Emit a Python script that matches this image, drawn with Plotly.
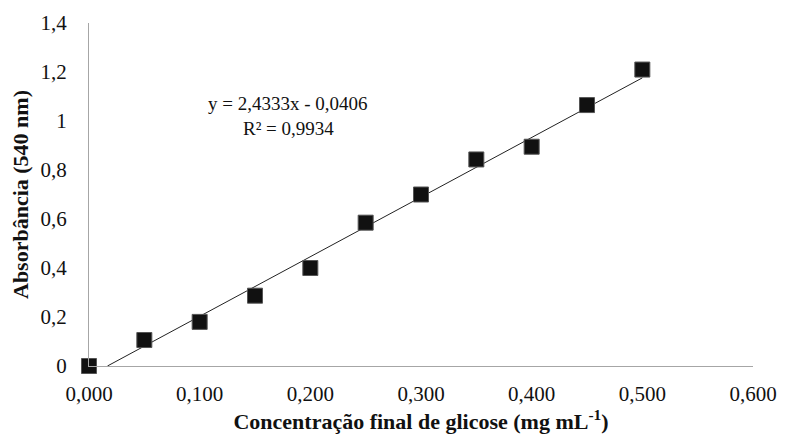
import plotly.graph_objects as go

conc = [0.0, 0.05, 0.10, 0.15, 0.20, 0.25, 0.30, 0.35, 0.40, 0.45, 0.50]
absorb = [0.0, 0.106, 0.18, 0.287, 0.40, 0.585, 0.70, 0.843, 0.895, 1.065, 1.21]
slope = 2.4333
intercept = -0.0406
x_ticks = [0.0, 0.1, 0.2, 0.3, 0.4, 0.5, 0.6]
x_ticktext = ["0,000", "0,100", "0,200", "0,300", "0,400", "0,500", "0,600"]
y_ticks = [0, 0.2, 0.4, 0.6, 0.8, 1.0, 1.2, 1.4]
y_ticktext = ["0", "0,2", "0,4", "0,6", "0,8", "1", "1,2", "1,4"]

x0 = -intercept / slope
x1 = max(conc)
trend_x = [x0, x1]
trend_y = [slope * x0 + intercept, slope * x1 + intercept]

font = "Times New Roman, Liberation Serif, DejaVu Serif, serif"

fig = go.Figure()
fig.add_trace(go.Scatter(x=trend_x, y=trend_y, mode="lines",
                         line=dict(color="#222222", width=1), showlegend=False,
                         hoverinfo="skip"))
fig.add_trace(go.Scatter(x=conc, y=absorb, mode="markers",
                         marker=dict(symbol="square", size=15, color="#111111",
                                     line=dict(color="#555555", width=1)),
                         cliponaxis=False, showlegend=False))

fig.add_annotation(x=0.18, y=1.072, xref="x", yref="y", showarrow=False,
                   text="y = 2,4333x - 0,0406", font=dict(family=font, size=19, color="#111"))
fig.add_annotation(x=0.18, y=0.97, xref="x", yref="y", showarrow=False,
                   text="R² = 0,9934", font=dict(family=font, size=19, color="#111"))

# page body has an 8px margin, so the figure is sized to fit the window
fig.update_layout(
    width=777, height=428,
    margin=dict(l=81, r=32, t=15, b=70),
    paper_bgcolor="white", plot_bgcolor="white",
    font=dict(family=font, size=18, color="#111"),
)
fig.update_xaxes(range=[0, 0.6], tickvals=x_ticks, ticktext=x_ticktext,
                 showgrid=False, zeroline=False, showline=True, linecolor="#a6a6a6",
                 linewidth=1, ticks="", ticklabelstandoff=9, automargin=False,
                 tickfont=dict(family=font, size=21),
                 title=dict(text="<b>Concentração final de glicose (mg mL<sup>-1</sup>)</b>",
                            font=dict(family=font, size=22), standoff=5))
fig.update_yaxes(range=[0, 1.4], tickvals=y_ticks, ticktext=y_ticktext,
                 showgrid=False, zeroline=False, showline=True, linecolor="#a6a6a6",
                 linewidth=1, ticks="", ticklabelstandoff=17, automargin=False,
                 tickfont=dict(family=font, size=21),
                 title=dict(text="<b>Absorbância (540 nm)</b>",
                            font=dict(family=font, size=22), standoff=7))

fig.write_html("out.html")
